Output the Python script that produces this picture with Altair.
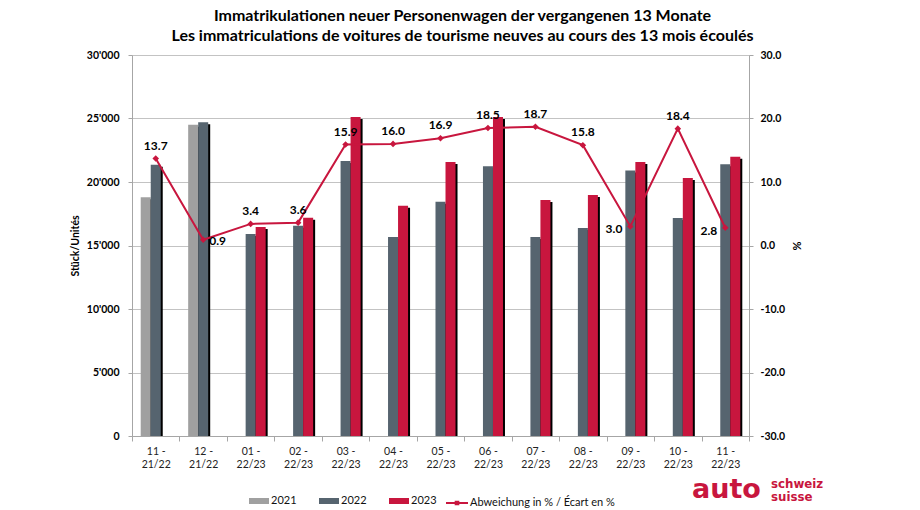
import json
import altair as alt
import pandas as pd

# ---------------- data ----------------
categories = ["11 -\n21/22", "12 -\n21/22", "01 -\n22/23", "02 -\n22/23", "03 -\n22/23",
              "04 -\n22/23", "05 -\n22/23", "06 -\n22/23", "07 -\n22/23", "08 -\n22/23",
              "09 -\n22/23", "10 -\n22/23", "11 -\n22/23"]
years = ["2021", "2022", "2023"]
v2021 = [18800, 24500, None, None, None, None, None, None, None, None, None, None, None]
v2022 = [21350, 24700, 15900, 16550, 21650, 15670, 18450, 21250, 15670, 16380, 20900, 17170, 21400]
v2023 = [None, None, 16450, 17180, 25120, 18130, 21580, 25120, 18580, 18980, 21580, 20320, 21980]
pct = [13.7, 0.9, 3.4, 3.6, 15.9, 16.0, 16.9, 18.5, 18.7, 15.8, 3.0, 18.4, 2.8]
line_label = "Abweichung in % / Écart en %"
title_lines = ["Immatrikulationen neuer Personenwagen der vergangenen 13 Monate",
               "Les immatriculations de voitures de tourisme neuves au cours des 13 mois écoulés"]
y_ticks = [0, 5000, 10000, 15000, 20000, 25000, 30000]
pct_ticks = [-30, -20, -10, 0, 10, 20, 30]

# ---------------- styling ----------------
FONT = "Lato"
LOGO_FONT = "DejaVu Sans"
RED = "#C8163E"
SLATE = "#56646F"
GREY = "#A0A0A0"
GRID = "#C3C3C3"
W, H = 617, 381
BW = 0.211  # bar width in category units

rows = []
for i in range(len(categories)):
    for slot, (yr, vals) in enumerate(zip(years, [v2021, v2022, v2023])):
        if vals[i] is not None:
            rows.append({"idx": i, "slot": slot, "year": yr, "value": vals[i]})
bars_df = pd.DataFrame(rows)
line_df = pd.DataFrame({"idx": list(range(len(categories))), "pct": pct,
                        "series": [line_label] * len(categories)})

cats_js = json.dumps(categories)
x_label_expr = f"datum.value < {len(categories)} ? split({cats_js}[datum.value], '\\n') : ''"

xscale = alt.Scale(domain=[0, len(categories)], nice=False, zero=False)

bar_base = alt.Chart(bars_df).transform_calculate(
    x0=f"datum.idx + 0.5 + (datum.slot - 1.5) * {BW}",
    x1=f"datum.idx + 0.5 + (datum.slot - 0.5) * {BW}",
)

x_enc = alt.X("x0:Q", scale=xscale, axis=alt.Axis(
    values=list(range(len(categories) + 1)), labelExpr=x_label_expr, labelOffset=23.7,
    title=None, grid=False, tickSize=5, tickColor="#A6A6A6", domainColor="#A6A6A6",
    labelFont=FONT, labelFontSize=10.5, labelColor="#222222", labelLineHeight=13.5,
    labelPadding=5, labelOverlap=False, labelBound=False, labelFlush=False))

y_enc = alt.Y("value:Q", scale=alt.Scale(domain=[0, 30000], nice=False, padding=0), axis=alt.Axis(
    values=y_ticks, labelExpr="replace(format(datum.value, ','), ',', \"'\")",
    title="Stück/Unités", titleFont=FONT, titleFontSize=10.5, titleFontWeight="bold",
    titleAngle=-90, titleX=-57, titleY=H / 2, titleAlign="center", titleBaseline="middle",
    titleColor="#000000",
    labelFont=FONT, labelFontSize=10.5, labelFontWeight="bold", labelColor="#000000",
    labelPadding=9, tickSize=4, tickColor="#A6A6A6", domainColor="#A6A6A6",
    grid=True, gridColor=GRID, gridWidth=1))

shadow = bar_base.mark_bar(color="#000000", xOffset=2, x2Offset=2, yOffset=2).encode(
    x=x_enc, x2="x1:Q", y=y_enc, y2=alt.datum(0))

bars = bar_base.mark_bar().encode(
    x=x_enc, x2="x1:Q", y=y_enc, y2=alt.datum(0),
    color=alt.Color("year:N", scale=alt.Scale(domain=years, range=[GREY, SLATE, RED]),
                    legend=alt.Legend(title=None, orient="none", legendX=117, legendY=436,
                                      direction="horizontal", symbolType="M-1,-0.3H1V0.3H-1Z",
                                      symbolSize=400, symbolStrokeWidth=0, labelFont=FONT,
                                      labelFontSize=11, labelColor="#111111", labelOffset=2,
                                      columnPadding=22)))

line_base = alt.Chart(line_df).transform_calculate(xc="datum.idx + 0.5")

y2_enc = alt.Y("pct:Q", scale=alt.Scale(domain=[-30, 30], nice=False), axis=alt.Axis(
    values=pct_ticks, orient="right",
    labelExpr="replace(format(datum.value, '.1f'), '\u2212', '-')",
    title="%", titleFont=FONT, titleFontSize=11, titleFontWeight="bold", titleAngle=-90,
    titleX=48, titleY=H / 2, titleAlign="center", titleBaseline="middle", titleColor="#000000",
    labelFont=FONT, labelFontSize=10.5, labelFontWeight="bold", labelColor="#000000",
    labelPadding=7, tickSize=4, tickColor="#A6A6A6", domainColor="#A6A6A6", grid=False))

line = line_base.mark_line(strokeWidth=2,
                           point=alt.OverlayMarkDef(filled=True, fill=RED, size=14, shape="diamond")
                           ).encode(
    x=alt.X("xc:Q", scale=xscale), y=y2_enc,
    stroke=alt.Stroke("series:N", scale=alt.Scale(domain=[line_label], range=[RED]),
                      legend=alt.Legend(title=None, orient="none", legendX=313, legendY=436,
                                        symbolType="M-1,0H1M-0.12,-0.12H0.12V0.12H-0.12Z",
                                        symbolSize=484, symbolStrokeWidth=2, symbolFillColor=RED,
                                        labelFont=FONT, labelFontSize=11, labelColor="#111111",
                                        labelOffset=1)))

txt = dict(font=FONT, fontSize=12, fontWeight="bold", color="#000000")
lab_above = line_base.transform_filter("datum.pct >= 3.2").mark_text(
    baseline="middle", align="center", dy=-13, **txt).encode(
    x=alt.X("xc:Q", scale=xscale), y=alt.Y("pct:Q"), text=alt.Text("pct:Q", format=".1f"))
lab_right = line_base.transform_filter("datum.pct < 1").mark_text(
    baseline="middle", align="left", dx=6, dy=1, **txt).encode(
    x=alt.X("xc:Q", scale=xscale), y=alt.Y("pct:Q"), text=alt.Text("pct:Q", format=".1f"))
lab_left = line_base.transform_filter("datum.pct >= 1 && datum.pct < 3.2").mark_text(
    baseline="middle", align="right", dx=-8, dy=3, **txt).encode(
    x=alt.X("xc:Q", scale=xscale), y=alt.Y("pct:Q"), text=alt.Text("pct:Q", format=".1f"))

logo_df = pd.DataFrame({"t": ["auto"]})
logo_auto = alt.Chart(logo_df).mark_text(text="auto", font=LOGO_FONT, fontSize=27, fontWeight="bold",
                                         color=RED, align="left", baseline="alphabetic").encode(
    x=alt.value(560), y=alt.value(443))
logo_s = alt.Chart(logo_df).mark_text(text=["schweiz", "suisse"], font=LOGO_FONT, fontSize=11.8,
                                      fontWeight="bold", color=RED, align="left",
                                      baseline="alphabetic", lineHeight=12.8).encode(
    x=alt.value(639), y=alt.value(433))

left = alt.layer(shadow, bars)
right = alt.layer(line, lab_above, lab_right, lab_left)

chart = alt.layer(left, right, logo_auto, logo_s).resolve_scale(
    y="independent", color="independent", stroke="independent"
).properties(
    width=W, height=H,
    autosize=alt.AutoSizeParams(type="none"),
    padding={"left": 132, "top": 55, "right": 171, "bottom": 74},
    title=alt.TitleParams(text=title_lines, font=FONT, fontSize=16, fontWeight="bold",
                          color="#000000", anchor="middle", dx=22, offset=6, lineHeight=20),
).configure_view(stroke=None).configure(background="white")

chart.save("out.html", embed_options={"renderer": "svg", "actions": False})
